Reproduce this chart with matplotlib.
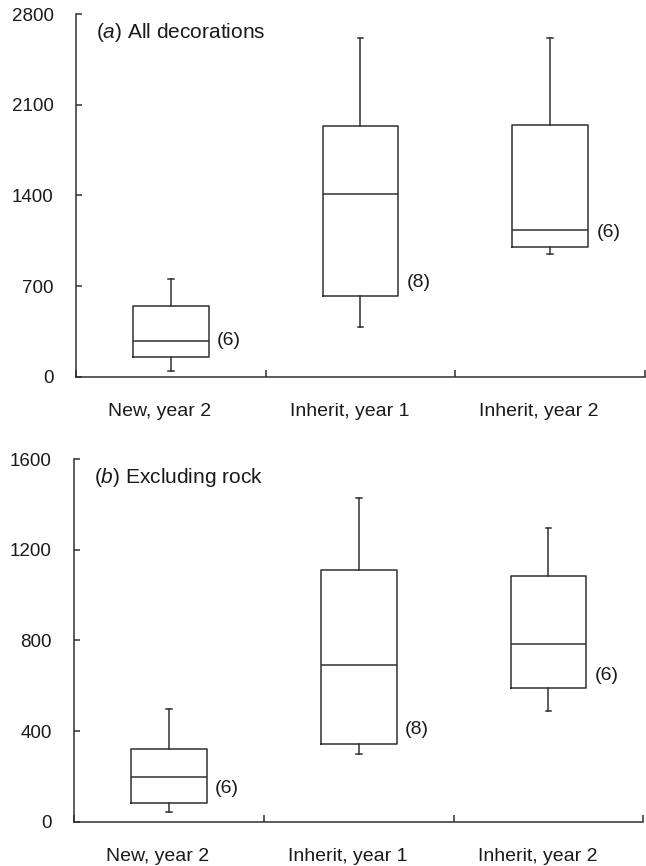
import numpy as np
import matplotlib
matplotlib.use('Agg')
import matplotlib.pyplot as plt
import matplotlib.transforms as mtransforms

plt.rcParams['font.family'] = ['Liberation Sans', 'DejaVu Sans']
plt.rcParams['mathtext.fontset'] = 'custom'
plt.rcParams['mathtext.rm'] = 'Liberation Sans'
plt.rcParams['mathtext.it'] = 'Liberation Sans:italic'

groups = ['New, year 2', 'Inherit, year 1', 'Inherit, year 2']
sample_n = [6, 8, 6]

# (a) all decorations
a_whislo = [45, 385, 945]
a_q1 = [155, 625, 1000]
a_med = [277, 1413, 1130]
a_q3 = [548, 1937, 1940]
a_whishi = [755, 2612, 2614]
a_yticks = [0, 700, 1400, 2100, 2800]

# (b) excluding rock
b_whislo = [44, 300, 489]
b_q1 = [84, 343, 592]
b_med = [199, 693, 784]
b_q3 = [320, 1113, 1083]
b_whishi = [496, 1429, 1297]
b_yticks = [0, 400, 800, 1200, 1600]

# where the "(n)" labels sit
a_label_y = [278, 731, 1117]
b_label_y = [147, 405, 645]

line_col = '#303030'
text_col = '#1a1a1a'


def make_stats(lo, q1, med, q3, hi):
    stats = []
    for i in range(len(lo)):
        stats.append(dict(whislo=lo[i], q1=q1[i], med=med[i], q3=q3[i],
                          whishi=hi[i], fliers=[]))
    return stats


def draw_panel(ax, stats, yticks, label_y, title):
    pos = np.arange(1, len(groups) + 1)
    props = dict(color=line_col, linewidth=1.1)
    ax.bxp(stats, positions=pos, widths=0.4, showfliers=False,
           boxprops=props, medianprops=props, whiskerprops=props,
           capprops=props, capwidths=0.03, manage_ticks=False)

    ax.set_xlim(0.5, len(groups) + 0.5)
    ax.set_ylim(yticks[0], yticks[-1])
    ax.spines['top'].set_visible(False)
    ax.spines['right'].set_visible(False)
    for s in ['left', 'bottom']:
        ax.spines[s].set_color(line_col)
        ax.spines[s].set_linewidth(1.1)

    ax.set_yticks(yticks)
    ax.tick_params(axis='y', direction='in', length=4, width=1.1,
                   color=line_col, labelsize=13.5, labelcolor=text_col, pad=16)

    ax.set_xticks(np.arange(0.5, len(groups) + 1, 1.0))
    ax.set_xticklabels([])
    ax.tick_params(axis='x', which='major', direction='in', length=5,
                   width=1.1, color=line_col)
    ax.set_xticks(pos, minor=True)
    ax.set_xticklabels(groups, minor=True)
    ax.tick_params(axis='x', which='minor', length=0, labelsize=14,
                   labelcolor=text_col, pad=19)
    shift = mtransforms.ScaledTranslation(-0.11, 0, ax.figure.dpi_scale_trans)
    for lab in ax.get_xticklabels(minor=True):
        lab.set_transform(lab.get_transform() + shift)

    for i in range(len(groups)):
        ax.annotate('(%d)' % sample_n[i], xy=(pos[i] + 0.2, label_y[i]),
                    xytext=(6, 0), textcoords='offset points',
                    va='center', ha='left', fontsize=14, color=text_col)

    ax.text(0.035, 0.95, title, transform=ax.transAxes, fontsize=15,
            color=text_col, va='center', ha='left')


fig = plt.figure(figsize=(6.46, 8.66), dpi=100)
ax_a = fig.add_axes([0.1176, 0.565, 0.8808, 0.4188])
ax_b = fig.add_axes([0.1146, 0.0512, 0.8813, 0.4184])

draw_panel(ax_a, make_stats(a_whislo, a_q1, a_med, a_q3, a_whishi),
           a_yticks, a_label_y, r'($\mathit{a}$) All decorations')
draw_panel(ax_b, make_stats(b_whislo, b_q1, b_med, b_q3, b_whishi),
           b_yticks, b_label_y, r'($\mathit{b}$) Excluding rock')

fig.savefig('out.png', dpi=100)
